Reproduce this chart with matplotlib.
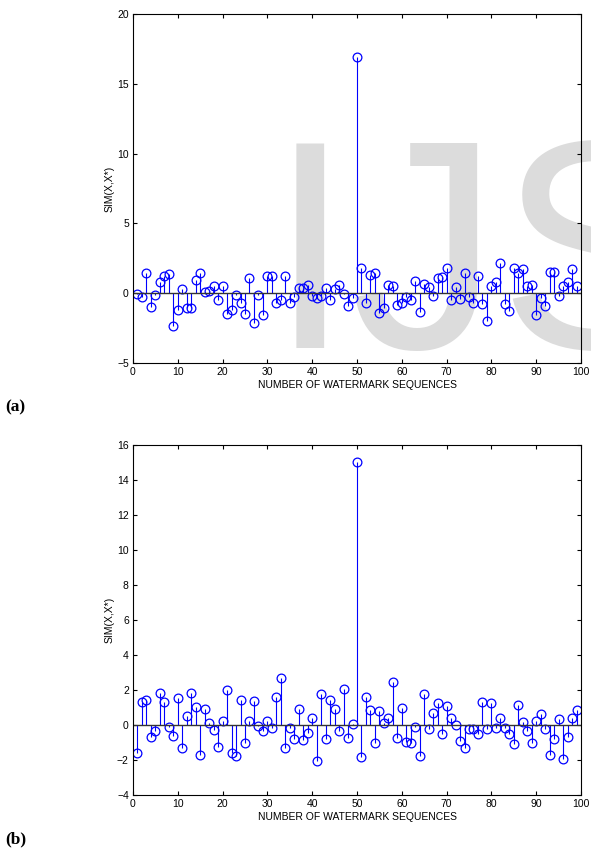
import matplotlib
matplotlib.use("Agg")
import matplotlib.pyplot as plt
import numpy as np

plt.rcParams['font.family'] = ['Liberation Sans', 'DejaVu Sans']

seq_index = list(range(1, 100))

sim_a = [-0.05, -0.24, 1.48, -1.0, -0.12, 0.83, 1.24, 1.38, -2.33, -1.19,
         0.29, -1.07, -1.07, 0.95, 1.48, 0.12, 0.19, 0.55, -0.48, 0.48,
         -1.5, -1.19, -0.12, -0.71, -1.5, 1.07, -2.1, -0.12, -1.55, 1.24,
         1.24, -0.67, -0.52, 1.24, -0.71, -0.24, 0.36, 0.36, 0.6, -0.19,
         -0.36, -0.19, 0.36, -0.52, 0.29, 0.6, -0.05, -0.95, -0.36, 16.9,
         1.79, -0.71, 1.31, 1.48, -1.43, -1.07, 0.6, 0.48, -0.88, -0.67,
         -0.24, -0.48, 0.9, -1.38, 0.67, 0.43, -0.19, 1.07, 1.19, 1.79,
         -0.48, 0.43, -0.43, 1.43, -0.24, -0.67, 1.24, -0.76, -1.98, 0.48,
         0.83, 2.19, -0.76, -1.31, 1.79, 1.48, 1.71, 0.52, 0.6, -1.55,
         -0.36, -0.95, 1.55, 1.55, -0.19, 0.52, 0.83, 1.71, 0.48]

sim_b = [-1.58, 1.3, 1.43, -0.7, -0.34, 1.85, 1.3, -0.1, -0.63, 1.52,
         -1.3, 0.53, 1.81, 1.05, -1.71, 0.9, 0.13, -0.29, -1.28, 0.23,
         2.0, -1.62, -1.75, 1.43, -1.05, 0.23, 1.37, -0.06, -0.34, 0.23,
         -0.19, 1.58, 2.67, -1.33, -0.19, -0.82, 0.91, -0.86, -0.48, 0.42,
         -2.06, 1.79, -0.8, 1.43, 0.9, -0.34, 2.06, -0.72, 0.04, 15.03,
         -1.84, 1.58, 0.86, -1.05, 0.82, 0.13, 0.42, 2.48, -0.76, 0.99,
         -0.95, -1.05, -0.1, -1.75, 1.75, -0.25, 0.67, 1.24, -0.53, 1.09,
         0.38, 0.0, -0.91, -1.33, -0.23, -0.2, -0.5, 1.3, -0.23, 1.28,
         -0.15, 0.42, -0.15, -0.53, -1.1, 1.14, 0.15, -0.34, -1.05, 0.23,
         0.61, -0.25, -1.71, -0.82, 0.34, -1.94, -0.67, 0.42, 0.86]

xticks = [0, 10, 20, 30, 40, 50, 60, 70, 80, 90, 100]
yticks_a = [-5, 0, 5, 10, 15, 20]
yticks_b = [-4, -2, 0, 2, 4, 6, 8, 10, 12, 14, 16]
xlabel = "NUMBER OF WATERMARK SEQUENCES"
ylabel = "SIM(X,X*)"
panel_labels = ["(a)", "(b)"]

W, H = 591, 852
fig = plt.figure(figsize=(W / 100, H / 100), dpi=100)

# watermark behind the top panel
fig.text(269 / W, 1 - 348 / H, "IJS", fontsize=214, color="#dcdcdc",
         family="Liberation Sans", ha="left", va="baseline", zorder=0)

blue = "#0000ff"
axes_specs = [
    (sim_a, yticks_a, (14, 363)),
    (sim_b, yticks_b, (445, 795)),
]
for k, (vals, yt, (top, bot)) in enumerate(axes_specs):
    ax = fig.add_axes([133 / W, 1 - bot / H, 448 / W, (bot - top) / H])
    ax.set_zorder(2)
    ax.set_facecolor("none")
    ml, sl, bl = ax.stem(seq_index, vals, linefmt="-", markerfmt="o", basefmt="-")
    plt.setp(sl, color=blue, linewidth=0.8)
    plt.setp(ml, markerfacecolor="none", markeredgecolor=blue, markersize=6.3,
             markeredgewidth=0.9)
    plt.setp(bl, color="#333333", linewidth=1.0)
    bl.set_xdata([0, 100])
    ax.set_xlim(0, 100)
    ax.set_ylim(yt[0], yt[-1])
    ax.set_xticks(xticks)
    ax.set_yticks(yt)
    ax.tick_params(direction="in", top=True, right=True, length=3, width=0.8,
                   labelsize=7.5, pad=3)
    for s in ax.spines.values():
        s.set_linewidth(0.8)
    ax.set_xlabel(xlabel, fontsize=7.5, labelpad=2)
    ax.set_ylabel(ylabel, fontsize=7.5, labelpad=2)
    fig.text(5 / W, 1 - (bot + 44) / H, panel_labels[k], fontsize=12.5,
             fontweight="bold", family="Liberation Serif", ha="left", va="center")

fig.savefig("out.png", dpi=100)
